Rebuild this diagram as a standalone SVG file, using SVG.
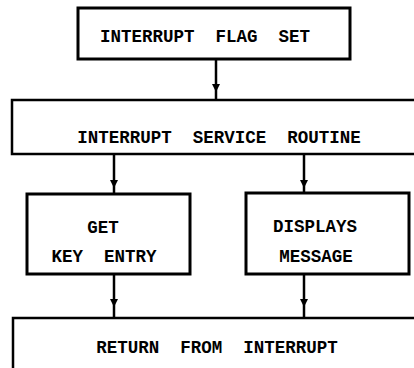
<svg xmlns="http://www.w3.org/2000/svg" width="414" height="368" viewBox="0 0 414 368">
<style>
.box{fill:#fff;stroke:#000;stroke-width:3}
.box2{fill:#fff;stroke:#000;stroke-width:2.5}
.lbl{font-family:"Liberation Mono","Courier New",monospace;font-weight:bold;font-size:17.5px;fill:#000;text-anchor:middle;white-space:pre}
.conn{fill:none;stroke:#000;stroke-width:2.5;marker-mid:url(#ah)}
</style>
<defs>
<marker id="ah" viewBox="0 0 8 8" refX="4" refY="4" markerWidth="8" markerHeight="8" markerUnits="userSpaceOnUse" orient="auto">
<path d="M0,0 L8,4 L0,8 Z" fill="#000"/>
</marker>
</defs>
<rect width="414" height="368" fill="#fff"/>
<g id="connectors">
<path class="conn" d="M216,59 V88 V100"/>
<path class="conn" d="M114,154 V184 V194"/>
<path class="conn" d="M304,154 V184 V193"/>
<path class="conn" d="M114,274 V303 V318"/>
<path class="conn" d="M304,274 V303 V318"/>
</g>
<g id="flag">
<rect class="box" x="78" y="8" width="272" height="51"/>
<text class="lbl" x="205" y="42" xml:space="preserve">INTERRUPT  FLAG  SET</text>
</g>
<g id="isr">
<rect class="box2" x="12" y="100" width="420" height="54"/>
<text class="lbl" x="219" y="143" xml:space="preserve">INTERRUPT  SERVICE  ROUTINE</text>
</g>
<g id="getkey">
<rect class="box" x="27" y="194" width="163" height="80"/>
<text class="lbl" x="103" y="233">GET</text>
<text class="lbl" x="104" y="262" xml:space="preserve">KEY  ENTRY</text>
</g>
<g id="display">
<rect class="box" x="246" y="193" width="163" height="81"/>
<text class="lbl" x="315" y="232">DISPLAYS</text>
<text class="lbl" x="316" y="262">MESSAGE</text>
</g>
<g id="return">
<rect class="box2" x="13" y="318" width="420" height="80"/>
<text class="lbl" x="217" y="353" xml:space="preserve">RETURN  FROM  INTERRUPT</text>
</g>
</svg>
